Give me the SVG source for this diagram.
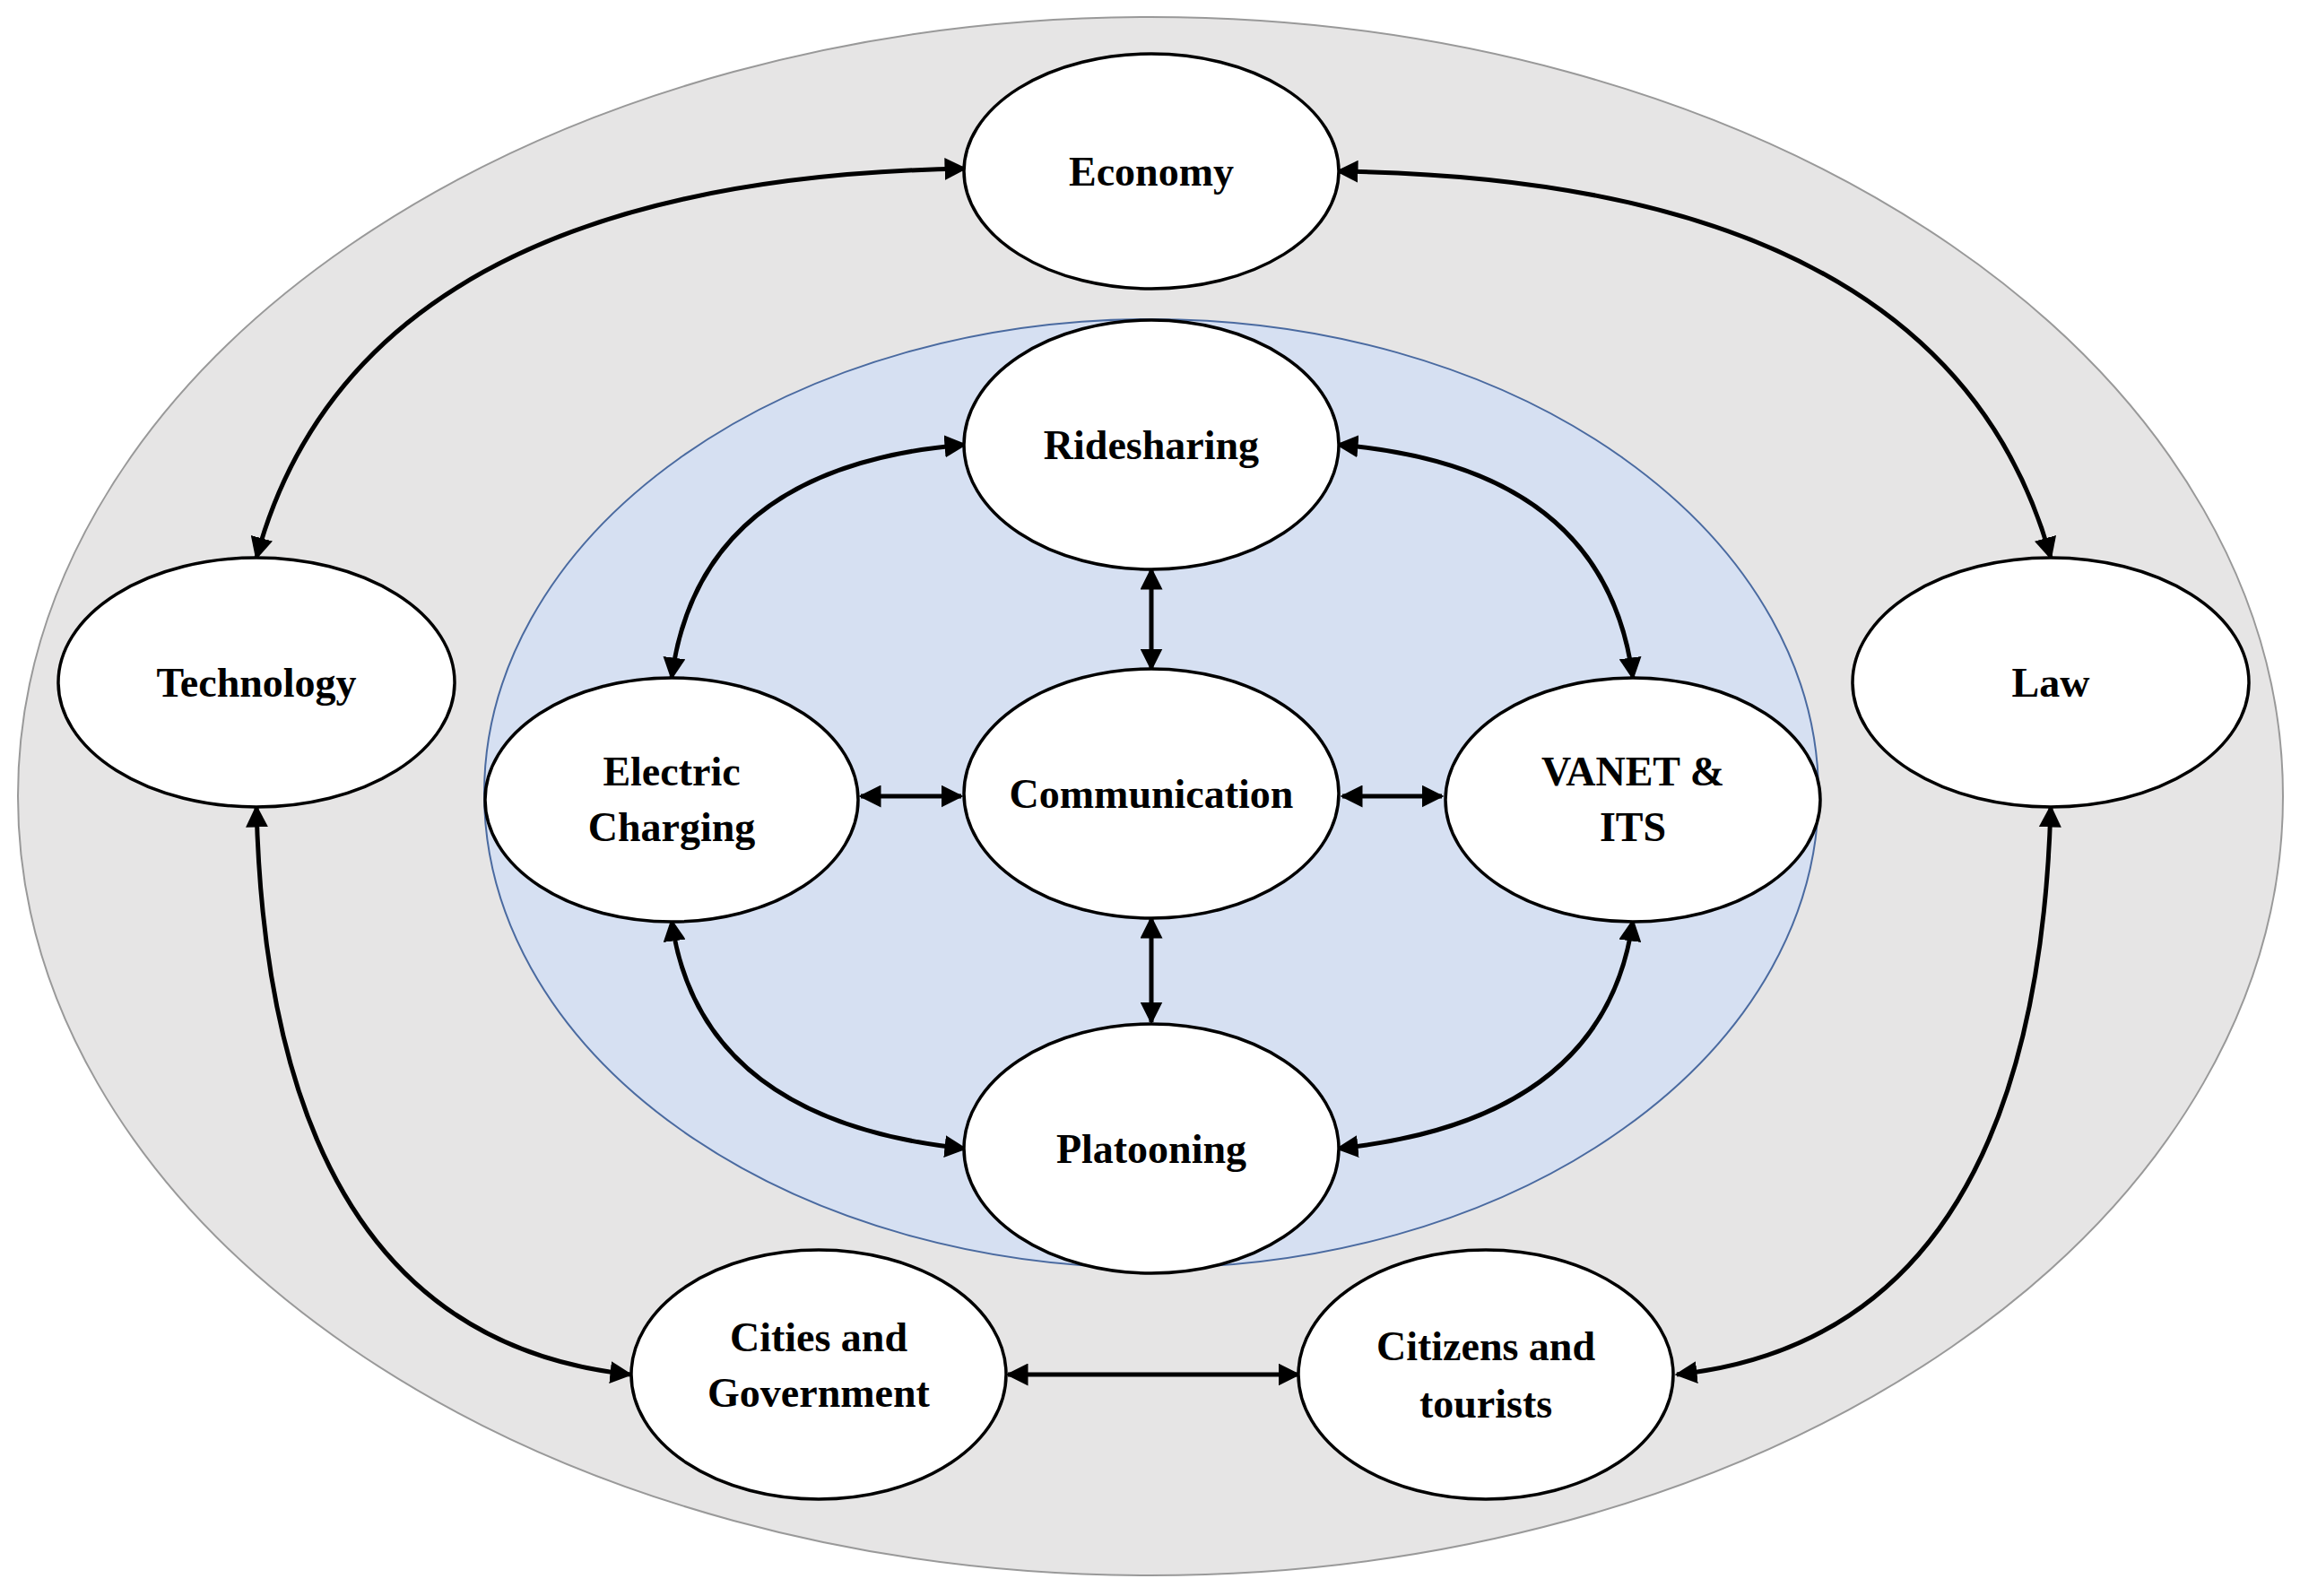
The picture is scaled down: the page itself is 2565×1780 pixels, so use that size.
<svg xmlns="http://www.w3.org/2000/svg" width="2565" height="1780" viewBox="0 0 2565 1780">
<style>
.n{fill:#fff;stroke:#000;stroke-width:3.5}
.t{font-family:"Liberation Serif",serif;font-weight:bold;font-size:46px;text-anchor:middle;dominant-baseline:central}
.c{fill:none;stroke:#000;stroke-width:5;marker-start:url(#a);marker-end:url(#a)}
</style>
<defs><marker id="a" viewBox="0 0 10 10" refX="9" refY="5" markerWidth="5" markerHeight="5" orient="auto-start-reverse" markerUnits="strokeWidth"><path d="M0,0L10,5L0,10z" fill="#000"/></marker></defs>
<rect width="2565" height="1780" fill="#fff"/>
<ellipse cx="1283" cy="888" rx="1263" ry="869" fill="#e6e5e5" stroke="#999" stroke-width="2"/>
<ellipse cx="1284" cy="885" rx="744" ry="529" fill="#d6e0f2" stroke="#4a6aa0" stroke-width="2"/>
<g id="connectors">
<path class="c" d="M1076,188 Q400,200 286,622"/>
<path class="c" d="M1492,191 Q2170,200 2287,622"/>
<path class="c" d="M286,900 Q300,1490 703,1533"/>
<path class="c" d="M2287,900 Q2270,1490 1870,1533"/>
<path class="c" d="M1124,1533 L1448,1533"/>
<path class="c" d="M1076,496 Q780,520 749,756"/>
<path class="c" d="M1492,496 Q1790,520 1821,756"/>
<path class="c" d="M749,1027 Q780,1250 1076,1281"/>
<path class="c" d="M1821,1027 Q1790,1250 1492,1281"/>
<path class="c" d="M1284,635 L1284,746"/>
<path class="c" d="M1284,1024 L1284,1140"/>
<path class="c" d="M960,888 L1072,888"/>
<path class="c" d="M1497,888 L1608,888"/>
</g>
<g id="economy"><ellipse class="n" cx="1284" cy="191" rx="209" ry="131"/><text class="t" x="1284" y="191">Economy</text></g>
<g id="ridesharing"><ellipse class="n" cx="1284" cy="496" rx="209" ry="139"/><text class="t" x="1284" y="496">Ridesharing</text></g>
<g id="communication"><ellipse class="n" cx="1284" cy="885" rx="209" ry="139"/><text class="t" x="1284" y="885">Communication</text></g>
<g id="platooning"><ellipse class="n" cx="1284" cy="1281" rx="209" ry="139"/><text class="t" x="1284" y="1281">Platooning</text></g>
<g id="electric"><ellipse class="n" cx="749" cy="892" rx="208" ry="136"/><text class="t" x="749" y="860">Electric</text><text class="t" x="749" y="922">Charging</text></g>
<g id="vanet"><ellipse class="n" cx="1821" cy="892" rx="209" ry="136"/><text class="t" x="1821" y="860">VANET &amp;</text><text class="t" x="1821" y="922">ITS</text></g>
<g id="technology"><ellipse class="n" cx="286" cy="761" rx="221" ry="139"/><text class="t" x="286" y="761">Technology</text></g>
<g id="law"><ellipse class="n" cx="2287" cy="761" rx="221" ry="139"/><text class="t" x="2287" y="761">Law</text></g>
<g id="cities"><ellipse class="n" cx="913" cy="1533" rx="209" ry="139"/><text class="t" x="913" y="1491">Cities and</text><text class="t" x="913" y="1553">Government</text></g>
<g id="citizens"><ellipse class="n" cx="1657" cy="1533" rx="209" ry="139"/><text class="t" x="1657" y="1501">Citizens and</text><text class="t" x="1657" y="1565">tourists</text></g>
</svg>
